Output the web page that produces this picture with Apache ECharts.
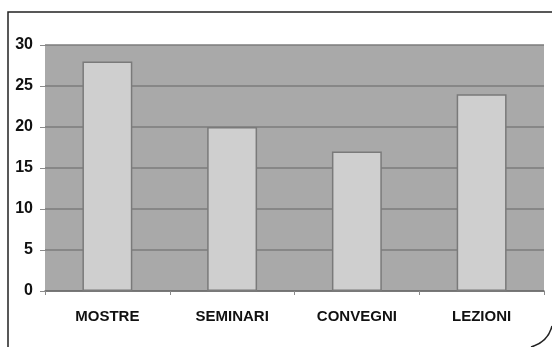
<!DOCTYPE html>
<html>
<head>
<meta charset="utf-8">
<script src="https://cdn.jsdelivr.net/npm/echarts@6/dist/echarts.min.js"></script>
<style>
  html, body { margin: 0; padding: 0; background: #fff; }
  #chart { width: 552px; height: 347px; }
</style>
</head>
<body>
<div id="chart"></div>
<script>
// categorie e valori
const categories = ["MOSTRE", "SEMINARI", "CONVEGNI", "LEZIONI"];
const values = [28, 20, 17, 24];
const yTicks = [0, 5, 10, 15, 20, 25, 30];

const chart = echarts.init(document.getElementById("chart"));

const option = {
  backgroundColor: "#ffffff",
  animation: false,
  grid: {
    left: 45,
    right: 8,
    top: 45,
    bottom: 56,
    show: true,
    backgroundColor: "#a9a9a9",
    borderWidth: 0
  },
  xAxis: {
    type: "category",
    data: categories,
    axisLine: { lineStyle: { color: "#6e6e6e", width: 1.5 } },
    axisTick: { show: true, length: 4, lineStyle: { color: "#8a8a8a" } },
    axisLabel: {
      color: "#111",
      fontFamily: "'Liberation Sans', Arial, sans-serif",
      fontSize: 15,
      fontWeight: "bold",
      margin: 18
    }
  },
  yAxis: {
    type: "value",
    min: yTicks[0],
    max: yTicks[yTicks.length - 1],
    interval: 5,
    axisLine: { show: false },
    axisTick: { show: true, length: 5, lineStyle: { color: "#8a8a8a" } },
    axisLabel: {
      color: "#111",
      fontFamily: "'Liberation Sans', Arial, sans-serif",
      fontSize: 16,
      fontWeight: "bold",
      margin: 12
    },
    splitLine: { lineStyle: { color: "#7c7c7c", width: 1.5 } }
  },
  series: [
    {
      type: "bar",
      data: values,
      barWidth: "40%",
      itemStyle: {
        color: "#cfcfcf",
        borderColor: "#7a7a7a",
        borderWidth: 1.5
      }
    }
  ],
  // cornice del riquadro
  graphic: [
    {
      type: "polyline",
      shape: { points: [[552, 12], [8, 12], [8, 347]] },
      style: { stroke: "#222", lineWidth: 1.5, fill: null }
    },
    {
      type: "bezierCurve",
      shape: { x1: 552, y1: 326, cpx1: 548, cpy1: 342, x2: 531, y2: 347 },
      style: { stroke: "#222", lineWidth: 1.5, fill: null }
    }
  ]
};

chart.setOption(option);
</script>
</body>
</html>
